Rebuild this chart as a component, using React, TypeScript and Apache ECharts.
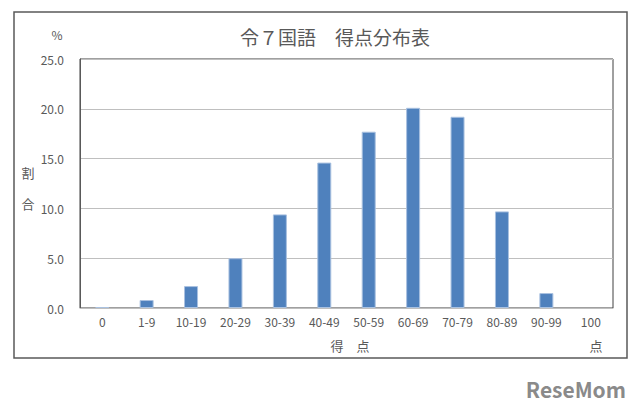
import React, { useEffect, useRef } from "react";
import * as echarts from "echarts";

const categories = ["0", "1-9", "10-19", "20-29", "30-39", "40-49", "50-59", "60-69", "70-79", "80-89", "90-99", "100"];
const shares = [0.1, 0.8, 2.2, 5.0, 9.4, 14.6, 17.7, 20.1, 19.2, 9.7, 1.5, 0.0];
const titleText = "令７国語　得点分布表";

const FONT = "'Noto Sans CJK JP', 'Noto Sans', sans-serif";

export default function App() {
  const ref = useRef<HTMLDivElement>(null);
  useEffect(() => {
    document.body.style.margin = "0";
    const chart = echarts.init(ref.current!, null, { renderer: "svg" });
    chart.setOption({
      animation: false,
      backgroundColor: "#ffffff",
      title: {
        text: titleText,
        left: 330,
        top: 22,
        textAlign: "center",
        textStyle: { fontFamily: FONT, fontSize: 19, fontWeight: "normal", color: "#595959" },
      },
      grid: {
        left: 80,
        right: 27,
        top: 59,
        bottom: 110,
        show: true,
        borderColor: "#404040",
        borderWidth: 1,
      },
      xAxis: {
        type: "category",
        data: categories,
        axisLine: { show: true, lineStyle: { color: "#bfbfbf" } },
        axisTick: { show: false },
        axisLabel: { color: "#595959", fontFamily: FONT, fontSize: 12, margin: 7, interval: 0 },
      },
      yAxis: {
        type: "value",
        min: 0,
        max: 25,
        interval: 5,
        axisLine: { show: true, lineStyle: { color: "#595959" } },
        axisTick: { show: false },
        splitLine: { lineStyle: { color: "#bfbfbf" } },
        axisLabel: {
          color: "#595959",
          fontFamily: FONT,
          fontSize: 12,
          margin: 16,
          formatter: (v: number) => v.toFixed(1),
        },
      },
      series: [
        {
          type: "bar",
          data: shares.map((v) =>
            v === 0 ? { value: v, itemStyle: { borderWidth: 0 } } : v
          ),
          barWidth: 14,
          itemStyle: { color: "#4f81bd", borderColor: "#a9c1e0", borderWidth: 1 },
        },
      ],
      graphic: [
        {
          type: "rect",
          shape: { x: 14, y: 12, width: 613, height: 346 },
          style: { fill: "none", stroke: "#595959", lineWidth: 1.5 },
          silent: true,
        },
        { type: "text", x: 57, y: 34, style: { text: "%", font: `12px ${FONT}`, fill: "#595959", align: "center", verticalAlign: "middle" } },
        { type: "text", x: 28, y: 172, style: { text: "割", font: `13px ${FONT}`, fill: "#595959", align: "center", verticalAlign: "middle" } },
        { type: "text", x: 28, y: 203, style: { text: "合", font: `13px ${FONT}`, fill: "#595959", align: "center", verticalAlign: "middle" } },
        { type: "text", x: 350, y: 345, style: { text: "得　点", font: `13px ${FONT}`, fill: "#595959", align: "center", verticalAlign: "middle" } },
        { type: "text", x: 596, y: 345, style: { text: "点", font: `13px ${FONT}`, fill: "#595959", align: "center", verticalAlign: "middle" } },
        { type: "text", x: 626, y: 389, style: { text: "ReseMom", font: `bold 21px ${FONT}`, fill: "#8a8a8a", align: "right", verticalAlign: "middle" } },
      ],
    });
    return () => chart.dispose();
  }, []);
  return <div ref={ref} style={{ width: 640, height: 418 }} />;
}
